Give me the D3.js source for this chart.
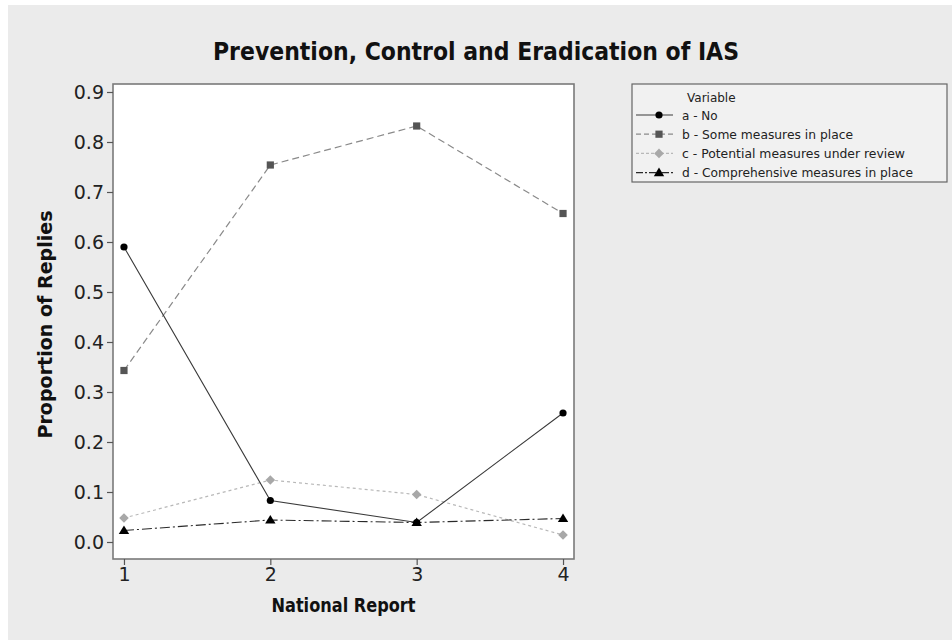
<!DOCTYPE html>
<html>
<head>
<meta charset="utf-8">
<script src="https://cdn.jsdelivr.net/npm/d3@7"></script>
<style>
  html, body { margin: 0; padding: 0; background: #ffffff; }
  svg { display: block; }
  text { font-family: "DejaVu Sans", Verdana, sans-serif; }
</style>
</head>
<body>
<svg id="chart" width="952" height="640"></svg>
<script>
// ---- data ----
const reports = [1, 2, 3, 4];
const seriesNames = [
  "a - No",
  "b - Some measures in place",
  "c - Potential measures under review",
  "d - Comprehensive measures in place"
];
const valuesA = [0.590, 0.083, 0.039, 0.258];
const valuesB = [0.343, 0.754, 0.832, 0.657];
const valuesC = [0.048, 0.124, 0.095, 0.014];
const valuesD = [0.023, 0.044, 0.039, 0.047];
const yTicks = [0.0, 0.1, 0.2, 0.3, 0.4, 0.5, 0.6, 0.7, 0.8, 0.9];
const xTicks = [1, 2, 3, 4];
const titleText = "Prevention, Control and Eradication of IAS";
const xTitle = "National Report";
const yTitle = "Proportion of Replies";
const legendTitle = "Variable";

// ---- styles ----
const styles = [
  { stroke: "#3a3a3a", dash: null, width: 1.1, marker: "circle", fill: "#000000" },
  { stroke: "#8a8a8a", dash: "7,4", width: 1.2, marker: "square", fill: "#555555" },
  { stroke: "#b8b8b8", dash: "3,3", width: 1.2, marker: "diamond", fill: "#a8a8a8" },
  { stroke: "#2a2a2a", dash: "10,3,2,3", width: 1.1, marker: "triangle", fill: "#000000" }
];
const legendLens = [null, 171, 223, 231];
const series = [valuesA, valuesB, valuesC, valuesD].map((v, i) => ({
  name: seriesNames[i], values: v, style: styles[i]
}));

const svg = d3.select("#chart");
const W = 952, H = 640;

// background
svg.append("rect").attr("x", 0).attr("y", 0).attr("width", W).attr("height", H).attr("fill", "#ffffff");
svg.append("rect").attr("x", 8).attr("y", 5).attr("width", W - 8).attr("height", H - 5).attr("fill", "#ebebeb");

// plot frame
const frame = { left: 113, right: 574, top: 84, bottom: 559 };
const x = d3.scaleLinear().domain([0.925, 4.075]).range([frame.left, frame.right]);
const y = d3.scaleLinear().domain([-0.034, 0.916]).range([frame.bottom, frame.top]);

svg.append("rect")
  .attr("x", frame.left).attr("y", frame.top)
  .attr("width", frame.right - frame.left).attr("height", frame.bottom - frame.top)
  .attr("fill", "#ffffff").attr("stroke", "#7a7a7a").attr("stroke-width", 1.6);

// axes
const yAxis = d3.axisLeft(y).tickValues(yTicks).tickFormat(d3.format(".1f")).tickSizeOuter(0).tickSize(6).tickPadding(3);
const gy = svg.append("g").attr("transform", `translate(${frame.left},0)`).call(yAxis);
gy.select(".domain").remove();
gy.selectAll(".tick line").attr("stroke", "#555").attr("stroke-width", 1.2);
gy.selectAll(".tick text").attr("font-size", 19).attr("fill", "#222")
  .style("font-family", "'DejaVu Sans', Verdana, sans-serif");

const xAxis = d3.axisBottom(x).tickValues(xTicks).tickFormat(d3.format("d")).tickSizeOuter(0).tickSize(6).tickPadding(3);
const gx = svg.append("g").attr("transform", `translate(0,${frame.bottom})`).call(xAxis);
gx.select(".domain").remove();
gx.selectAll(".tick line").attr("stroke", "#555").attr("stroke-width", 1.2);
gx.selectAll(".tick text").attr("font-size", 19).attr("fill", "#222")
  .style("font-family", "'DejaVu Sans', Verdana, sans-serif");

// titles
svg.append("text").attr("x", 476).attr("y", 60).attr("text-anchor", "middle")
  .attr("font-size", 25).attr("font-weight", "bold").attr("fill", "#111")
  .attr("textLength", 526).attr("lengthAdjust", "spacingAndGlyphs")
  .text(titleText);

svg.append("text").attr("x", (x(1) + x(4)) / 2).attr("y", 612).attr("text-anchor", "middle")
  .attr("font-size", 20).attr("font-weight", "bold").attr("fill", "#111")
  .attr("textLength", 144).attr("lengthAdjust", "spacingAndGlyphs")
  .text(xTitle);

svg.append("text").attr("transform", `translate(52,${(frame.top + frame.bottom) / 2 + 3}) rotate(-90)`)
  .attr("text-anchor", "middle")
  .attr("font-size", 20).attr("font-weight", "bold").attr("fill", "#111")
  .attr("textLength", 228).attr("lengthAdjust", "spacingAndGlyphs")
  .text(yTitle);

// marker drawer
function drawMarker(g, type, cx, cy, fill) {
  if (type === "circle") {
    g.append("circle").attr("cx", cx).attr("cy", cy).attr("r", 3.6).attr("fill", fill);
  } else if (type === "square") {
    g.append("rect").attr("x", cx - 3.6).attr("y", cy - 3.6).attr("width", 7.2).attr("height", 7.2).attr("fill", fill);
  } else if (type === "diamond") {
    g.append("path").attr("d", `M${cx},${cy - 4.8}L${cx + 4.8},${cy}L${cx},${cy + 4.8}L${cx - 4.8},${cy}Z`).attr("fill", fill);
  } else if (type === "triangle") {
    g.append("path").attr("d", `M${cx},${cy - 5}L${cx + 5.2},${cy + 3.6}L${cx - 5.2},${cy + 3.6}Z`).attr("fill", fill);
  }
}

// lines (draw in reverse so a is on top)
const line = d3.line().x((d, i) => x(reports[i])).y(d => y(d));
const linesG = svg.append("g");
[2, 3, 1, 0].forEach(k => {
  const s = series[k];
  const p = linesG.append("path").attr("d", line(s.values))
    .attr("fill", "none").attr("stroke", s.style.stroke).attr("stroke-width", s.style.width);
  if (s.style.dash) p.attr("stroke-dasharray", s.style.dash);
});
[2, 3, 1, 0].forEach(k => {
  const s = series[k];
  s.values.forEach((v, i) => drawMarker(linesG, s.style.marker, x(reports[i]), y(v), s.style.fill));
});

// legend
const lg = svg.append("g");
lg.append("rect").attr("x", 632).attr("y", 84).attr("width", 315).attr("height", 98)
  .attr("fill", "#f1f1f1").attr("stroke", "#666").attr("stroke-width", 1.2);
lg.append("text").attr("x", 687).attr("y", 102).attr("font-size", 12).attr("fill", "#222").text(legendTitle);
series.forEach((s, i) => {
  const cy = 115 + i * 19.2;
  const l = lg.append("line").attr("x1", 636).attr("x2", 673).attr("y1", cy).attr("y2", cy)
    .attr("stroke", s.style.stroke).attr("stroke-width", s.style.width);
  if (s.style.dash) l.attr("stroke-dasharray", i === 3 ? "7,2,2,2" : (i === 1 ? "5,3" : "3,2"));
  drawMarker(lg, s.style.marker, 659, cy, s.style.fill);
  const t = lg.append("text").attr("x", 682).attr("y", cy + 4.5).attr("font-size", 12).attr("fill", "#222")
    .text(s.name);
  if (legendLens[i]) t.attr("textLength", legendLens[i]).attr("lengthAdjust", "spacingAndGlyphs");
});
</script>
</body>
</html>
